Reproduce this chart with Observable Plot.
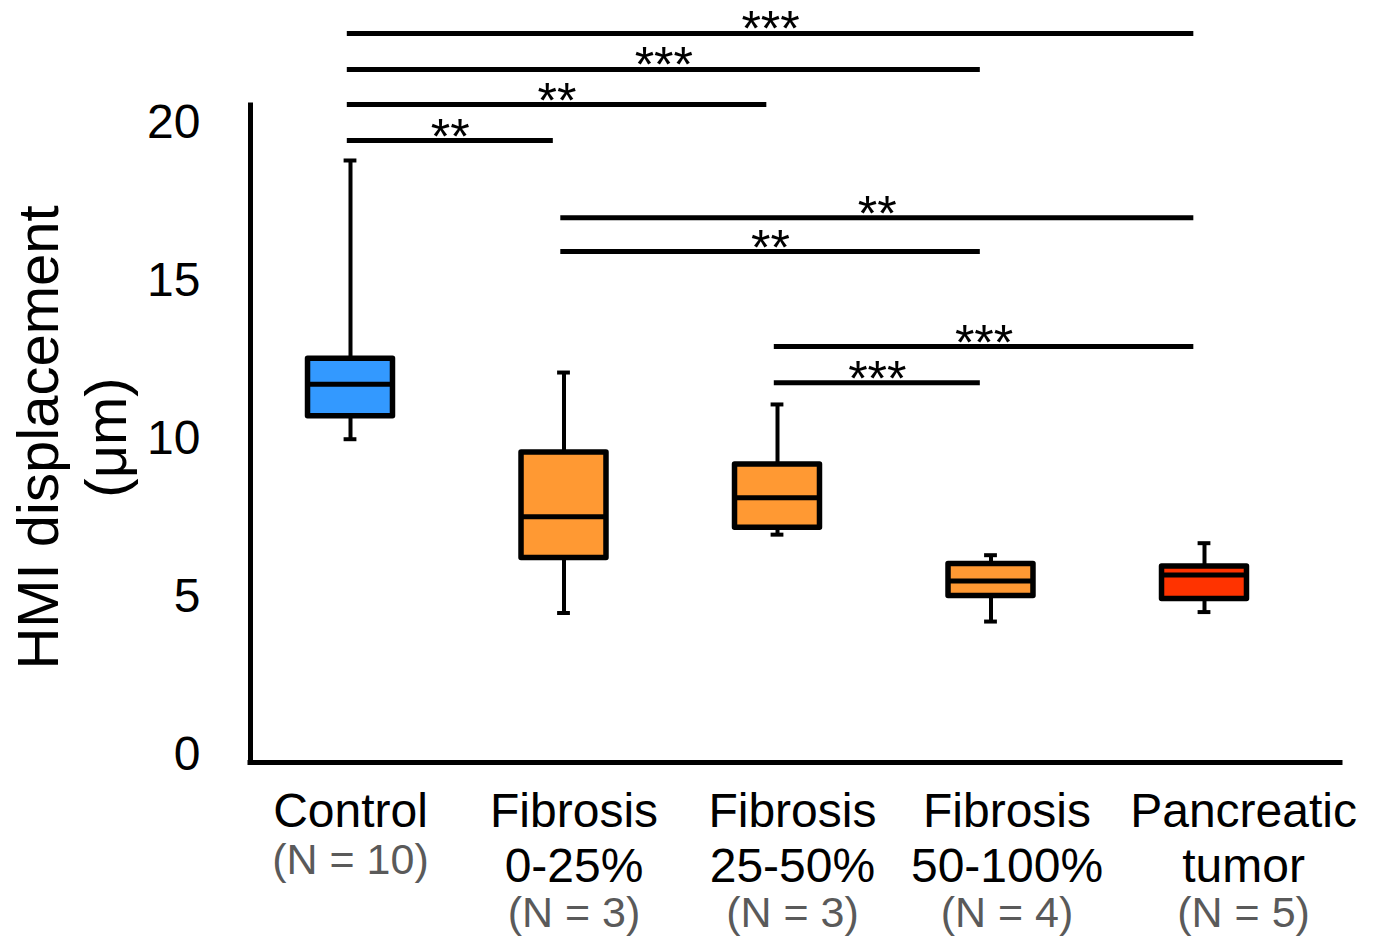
<!DOCTYPE html>
<html><head><meta charset="utf-8">
<script src="https://cdn.jsdelivr.net/npm/d3@7"></script>
<script src="https://cdn.jsdelivr.net/npm/@observablehq/plot@0.6"></script>
<style>html,body{margin:0;padding:0;background:#fff;}</style>
</head><body><div id="chart"></div>
<script>
// ---- data ----
const categories = ["Control", "Fibrosis 0-25%", "Fibrosis 25-50%", "Fibrosis 50-100%", "Pancreatic tumor"];
const nameLines = ["Control", "Fibrosis\n0-25%", "Fibrosis\n25-50%", "Fibrosis\n50-100%", "Pancreatic\ntumor"];
const nLabels = ["(N = 10)", "(N = 3)", "(N = 3)", "(N = 4)", "(N = 5)"];
const whiskerMin = [9.98, 4.48, 6.96, 4.21, 4.51];
const q1 = [10.71, 6.22, 7.18, 5.02, 4.92];
const median = [11.72, 7.53, 8.13, 5.49, 5.68];
const q3 = [12.53, 9.56, 9.18, 6.03, 5.95];
const whiskerMax = [18.80, 12.09, 11.08, 6.31, 6.69];
const boxColors = ["#3399ff", "#ff9933", "#ff9933", "#ff9933", "#ff3300"];
const yTicks = [0, 5, 10, 15, 20];
const sigFrom = [0, 0, 0, 0, 1, 1, 2, 2];
const sigTo = [4, 3, 2, 1, 4, 3, 4, 3];
const sigLevel = [22.82, 21.68, 20.57, 19.43, 16.99, 15.92, 12.91, 11.77];
const sigStars = ["***", "***", "**", "**", "**", "**", "***", "***"];
const yTitle = ["HMI displacement", "(μm)"];

// ---- layout settings (not data) ----
const xDomain = [-0.4684, 4.637];
const yDomain = [-0.25, 20.54];
const BOX_HALF = 0.199, CAP_HALF = 0.03, SIG_START = 0.015, SIG_END = 0.05;
const LABEL_NUDGE = [0, 0.047, 0.07, 0.075, 0.183]; // category labels sit slightly right of the boxes

const boxes = categories.map((c, i) => ({
  i, c, name: nameLines[i], n: nLabels[i], rows: nameLines[i].split("\n").length,
  lx: i + LABEL_NUDGE[i],
  min: whiskerMin[i], q1: q1[i], med: median[i], q3: q3[i], max: whiskerMax[i]
}));
const sigs = sigFrom.map((f, k) => ({from: f, to: sigTo[k], y: sigLevel[k], s: sigStars[k]}));

const plot = Plot.plot({
  width: 1376, height: 937,
  marginLeft: 250, marginRight: 36, marginTop: 105, marginBottom: 175,
  style: {fontFamily: "'Liberation Sans', Arial, sans-serif", fontSize: "48px", color: "black", background: "white", overflow: "visible"},
  x: {type: "linear", domain: xDomain, axis: null},
  y: {domain: yDomain, axis: null},
  color: {domain: categories, range: boxColors},
  marks: [
    // whiskers
    Plot.ruleX(boxes, {x: "i", y1: "min", y2: "q1", stroke: "black", strokeWidth: 4}),
    Plot.ruleX(boxes, {x: "i", y1: "q3", y2: "max", stroke: "black", strokeWidth: 4}),
    // caps
    Plot.ruleY(boxes, {y: "min", x1: d => d.i - CAP_HALF, x2: d => d.i + CAP_HALF, stroke: "black", strokeWidth: 4}),
    Plot.ruleY(boxes, {y: "max", x1: d => d.i - CAP_HALF, x2: d => d.i + CAP_HALF, stroke: "black", strokeWidth: 4}),
    // boxes
    Plot.rect(boxes, {x1: d => d.i - BOX_HALF, x2: d => d.i + BOX_HALF, y1: "q1", y2: "q3", fill: "c", stroke: "black", strokeWidth: 5.5, strokeLinejoin: "round"}),
    // medians
    Plot.ruleY(boxes, {y: "med", x1: d => d.i - BOX_HALF, x2: d => d.i + BOX_HALF, stroke: "black", strokeWidth: 5}),
    // significance brackets
    Plot.ruleY(sigs, {y: "y", x1: d => d.from - SIG_START, x2: d => d.to - SIG_END, stroke: "black", strokeWidth: 5}),
    Plot.text(sigs, {y: "y", x: d => (d.from - SIG_START + d.to - SIG_END) / 2, text: "s", fontSize: 50, dy: -3, fill: "black"}),
    // axis lines
    Plot.ruleY([yDomain[0]], {y: d => d, stroke: "black", strokeWidth: 5, strokeLinecap: "square"}),
    Plot.ruleX([xDomain[0]], {x: d => d, y1: yDomain[0], y2: yDomain[1], stroke: "black", strokeWidth: 5, strokeLinecap: "square"}),
    // y axis ticks
    Plot.axisY({ticks: yTicks, tickSize: 0, tickPadding: 50, fontSize: 48, label: null, tickFormat: d => String(d)}),
    // x labels
    Plot.text(boxes, {x: "lx", text: "name", frameAnchor: "bottom", lineAnchor: "top", dy: 25, lineHeight: 1.146, fontSize: 48, fill: "black"}),
    Plot.text(boxes.filter(d => d.rows === 1), {x: "lx", text: "n", frameAnchor: "bottom", lineAnchor: "top", dy: 81, fontSize: 43, fill: "#5a5a5a"}),
    Plot.text(boxes.filter(d => d.rows === 2), {x: "lx", text: "n", frameAnchor: "bottom", lineAnchor: "top", dy: 134, fontSize: 43, fill: "#5a5a5a"}),
    // y title
    Plot.text([yTitle[0]], {text: d => d, frameAnchor: "left", textAnchor: "middle", rotate: -90, dx: -211, dy: 3.5, fontSize: 58, fill: "black"}),
    Plot.text([yTitle[1]], {text: d => d, frameAnchor: "left", textAnchor: "middle", rotate: -90, dx: -143, dy: 3.5, fontSize: 58, fill: "black"})
  ]
});
document.getElementById("chart").appendChild(plot);
</script>
</body></html>
